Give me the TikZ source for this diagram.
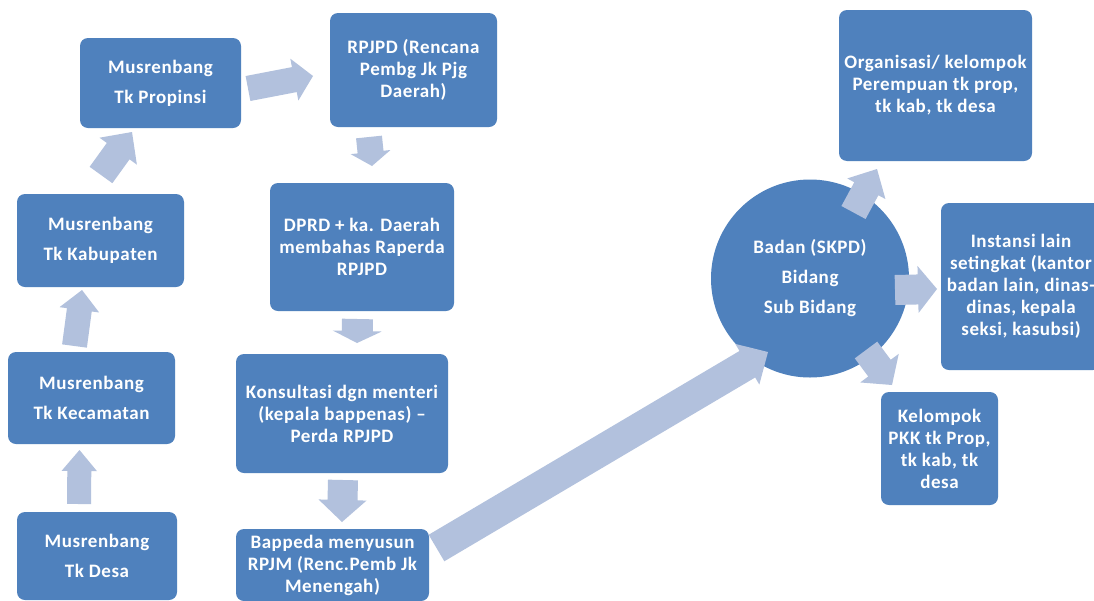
\documentclass[tikz,border=0pt]{standalone}
\usepackage{fontspec}
\setmainfont[LetterSpace=3]{Carlito}
\usetikzlibrary{calc}
\definecolor{boxblue}{RGB}{79,129,189}
\definecolor{arrowc}{RGB}{178,193,221}
\tikzset{
  box/.style={fill=boxblue, rounded corners=8pt, text=white,
    font=\bfseries\fontsize{19}{22}\selectfont, align=center, inner sep=2pt},
  bubble/.style={circle, fill=boxblue, text=white, inner sep=0pt,
    font=\bfseries\fontsize{19}{22}\selectfont, align=center},
  blockarrowstyle/.style={fill=arrowc}
}
% start, end, shaft half width, head half width, head length
\newcommand{\blockarrow}[5]{%
  \fill[blockarrowstyle] let \p1=(#1), \p2=(#2),
    \n1={atan2(\y2-\y1,\x2-\x1)}, \n2={veclen(\x2-\x1,\y2-\y1)} in
    ($(\p1)+(\n1+90:#3pt)$) --
    ($(\p1)+(\n1:\n2-#5pt)+(\n1+90:#3pt)$) --
    ($(\p1)+(\n1:\n2-#5pt)+(\n1+90:#4pt)$) --
    (\p2) --
    ($(\p1)+(\n1:\n2-#5pt)+(\n1-90:#4pt)$) --
    ($(\p1)+(\n1:\n2-#5pt)+(\n1-90:#3pt)$) --
    ($(\p1)+(\n1-90:#3pt)$) -- cycle;}
\begin{document}
\begin{tikzpicture}[x=1pt,y=-1pt]
\useasboundingbox (0,0) rectangle (1094,600);
\clip (0,0) rectangle (1094,600);
\fill[white] (0,0) rectangle (1094,600);

% boxes
\node[box, minimum width=161pt, minimum height=90pt] (prop) at (160.5,83) {Musrenbang\\[8pt]Tk Propinsi};
\node[box, minimum width=167pt, minimum height=114pt] (rpjpd) at (413.5,70) {RPJPD (Rencana\\Pembg Jk Pjg\\Daerah)};
\node[box, minimum width=167pt, minimum height=93pt] (kab) at (100.5,240.5) {Musrenbang\\[8pt]Tk Kabupaten};
\node[box, minimum width=184pt, minimum height=128pt] (dprd) at (362,247) {DPRD + ka. Daerah\\membahas Raperda\\RPJPD};
\node[box, minimum width=167pt, minimum height=92pt] (kec) at (91.5,398) {Musrenbang\\[8pt]Tk Kecamatan};
\node[box, minimum width=212pt, minimum height=119pt] (kons) at (342,413.5) {Konsultasi dgn menteri\\(kepala bappenas) --\\Perda RPJPD};
\node[box, minimum width=160pt, minimum height=88pt] (desa) at (97,556) {Musrenbang\\[8pt]Tk Desa};
\node[box, minimum width=193pt, minimum height=72pt] (bapp) at (332.5,565) {Bappeda menyusun\\RPJM (Renc.Pemb Jk\\Menengah)};
\node[box, minimum width=193pt, minimum height=151pt] (org) at (935.5,85.5) {Organisasi/ kelompok\\Perempuan tk prop,\\tk kab, tk desa};
\node[box, minimum width=160pt, minimum height=167pt] (inst) at (1021,286.5) {Instansi lain\\setingkat (kantor\\badan lain, dinas-\\dinas, kepala\\seksi, kasubsi)};
\node[box, minimum width=117pt, minimum height=113pt] (pkk) at (939.5,448.5) {Kelompok\\PKK tk Prop,\\tk kab, tk\\desa};
\node[bubble, minimum size=198pt] (circ) at (810,278.5) {Badan (SKPD)\\[8pt]Bidang\\[8pt]Sub Bidang};

% arrow end points
\coordinate (a1s) at (248,88.5);  \coordinate (a1e) at (313,76);
\coordinate (a2s) at (101,175);   \coordinate (a2e) at (132,132);
\coordinate (a3s) at (74.5,346);  \coordinate (a3e) at (82,290);
\coordinate (a4s) at (79,504);    \coordinate (a4e) at (79.5,450);
\coordinate (a5s) at (369,137);   \coordinate (a5e) at (372,166);
\coordinate (a6s) at (357.5,319); \coordinate (a6e) at (357,343);
\coordinate (a7s) at (343,480);   \coordinate (a7e) at (342,522);
\coordinate (a8s) at (436.5,548); \coordinate (a8e) at (768,352);
\coordinate (a9s) at (853.5,212.5); \coordinate (a9e) at (877,169);
\coordinate (a10s) at (895,290);  \coordinate (a10e) at (937,289);
\coordinate (a11s) at (866,350);  \coordinate (a11e) at (892,385);

\blockarrow{a1s}{a1e}{12.7}{21.3}{19}
\blockarrow{a2s}{a2e}{14}{23}{23.6}
\blockarrow{a3s}{a3e}{12.5}{20}{20}
\blockarrow{a4s}{a4e}{12}{17.7}{21}
\blockarrow{a5s}{a5e}{13}{20}{14}
\blockarrow{a6s}{a6e}{15.5}{24.5}{12}
\blockarrow{a7s}{a7e}{15}{24}{22}
\blockarrow{a8s}{a8e}{15.4}{23.6}{24}
\blockarrow{a9s}{a9e}{13.7}{21.7}{22.4}
\blockarrow{a10s}{a10e}{15}{23.5}{19}
\blockarrow{a11s}{a11e}{14}{24}{21}
\end{tikzpicture}
\end{document}
